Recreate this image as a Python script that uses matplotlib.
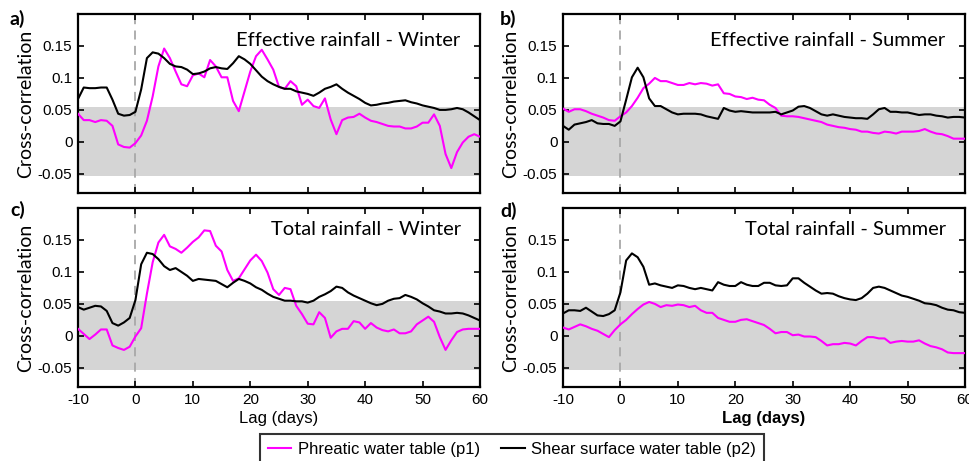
import matplotlib
matplotlib.use("Agg")
import matplotlib.pyplot as plt
import numpy as np

lags = list(range(-10, 61))

# Panel a: Effective rainfall - Winter
a_p1 = [0.044, 0.034, 0.034, 0.031, 0.034, 0.033, 0.025, -0.004, -0.008, -0.009,
        -0.002, 0.010, 0.033, 0.071, 0.118, 0.146, 0.131, 0.110, 0.090, 0.087,
        0.104, 0.107, 0.101, 0.128, 0.118, 0.101, 0.101, 0.064, 0.048, 0.079,
        0.110, 0.134, 0.144, 0.129, 0.113, 0.086, 0.083, 0.095, 0.087, 0.058,
        0.066, 0.056, 0.053, 0.068, 0.035, 0.012, 0.034, 0.038, 0.039, 0.044,
        0.038, 0.033, 0.031, 0.028, 0.025, 0.024, 0.024, 0.021, 0.021, 0.024,
        0.030, 0.030, 0.043, 0.025, -0.019, -0.041, -0.016, -0.001, 0.008, 0.012,
        0.008]
a_p2 = [0.067, 0.085, 0.084, 0.084, 0.085, 0.085, 0.066, 0.044, 0.041, 0.042,
        0.047, 0.082, 0.131, 0.140, 0.138, 0.131, 0.122, 0.118, 0.117, 0.113,
        0.106, 0.107, 0.110, 0.115, 0.117, 0.115, 0.114, 0.123, 0.134, 0.129,
        0.122, 0.112, 0.102, 0.095, 0.090, 0.086, 0.083, 0.083, 0.079, 0.077,
        0.075, 0.072, 0.077, 0.083, 0.086, 0.090, 0.083, 0.077, 0.072, 0.067,
        0.061, 0.057, 0.058, 0.060, 0.061, 0.063, 0.064, 0.065, 0.062, 0.060,
        0.057, 0.055, 0.053, 0.050, 0.050, 0.051, 0.053, 0.051, 0.046, 0.040,
        0.034]

# Panel b: Effective rainfall - Summer
b_p1 = [0.052, 0.047, 0.051, 0.051, 0.048, 0.044, 0.041, 0.038, 0.034, 0.033,
        0.040, 0.046, 0.056, 0.069, 0.084, 0.091, 0.100, 0.095, 0.095, 0.092,
        0.089, 0.089, 0.092, 0.090, 0.092, 0.091, 0.088, 0.090, 0.076, 0.075,
        0.071, 0.070, 0.067, 0.069, 0.066, 0.065, 0.058, 0.053, 0.041, 0.040,
        0.040, 0.039, 0.037, 0.035, 0.033, 0.031, 0.027, 0.025, 0.023, 0.022,
        0.020, 0.019, 0.016, 0.016, 0.014, 0.013, 0.016, 0.015, 0.013, 0.016,
        0.016, 0.016, 0.017, 0.020, 0.016, 0.013, 0.012, 0.009, 0.005, 0.005,
        0.005]
b_p2 = [0.025, 0.019, 0.027, 0.029, 0.031, 0.034, 0.029, 0.028, 0.028, 0.025,
        0.032, 0.066, 0.101, 0.116, 0.101, 0.068, 0.056, 0.056, 0.051, 0.046,
        0.043, 0.044, 0.044, 0.044, 0.043, 0.040, 0.038, 0.036, 0.053, 0.049,
        0.047, 0.048, 0.047, 0.046, 0.046, 0.046, 0.046, 0.047, 0.043, 0.046,
        0.049, 0.055, 0.056, 0.053, 0.048, 0.043, 0.041, 0.043, 0.041, 0.039,
        0.038, 0.037, 0.037, 0.036, 0.043, 0.051, 0.053, 0.047, 0.047, 0.046,
        0.046, 0.044, 0.042, 0.043, 0.043, 0.041, 0.040, 0.038, 0.039, 0.039,
        0.038]

# Panel c: Total rainfall - Winter
c_p1 = [0.011, 0.003, -0.005, 0.002, 0.010, 0.010, -0.015, -0.019, -0.022, -0.017,
        -0.001, 0.012, 0.066, 0.115, 0.146, 0.158, 0.140, 0.136, 0.130, 0.138,
        0.147, 0.154, 0.165, 0.164, 0.141, 0.132, 0.103, 0.086, 0.090, 0.104,
        0.118, 0.127, 0.117, 0.099, 0.073, 0.064, 0.075, 0.073, 0.047, 0.034,
        0.019, 0.018, 0.037, 0.028, -0.003, 0.007, 0.011, 0.011, 0.023, 0.021,
        0.011, 0.020, 0.013, 0.009, 0.007, 0.010, 0.004, 0.004, 0.007, 0.018,
        0.024, 0.030, 0.022, -0.002, -0.022, -0.007, 0.006, 0.010, 0.011, 0.011,
        0.011]
c_p2 = [0.045, 0.041, 0.044, 0.047, 0.046, 0.039, 0.020, 0.016, 0.021, 0.028,
        0.056, 0.112, 0.130, 0.128, 0.120, 0.109, 0.103, 0.106, 0.100, 0.094,
        0.086, 0.089, 0.088, 0.087, 0.086, 0.081, 0.076, 0.083, 0.089, 0.086,
        0.082, 0.076, 0.072, 0.066, 0.061, 0.058, 0.055, 0.055, 0.054, 0.054,
        0.052, 0.055, 0.061, 0.065, 0.070, 0.077, 0.075, 0.068, 0.063, 0.059,
        0.055, 0.051, 0.048, 0.050, 0.055, 0.058, 0.059, 0.064, 0.061, 0.057,
        0.051, 0.046, 0.040, 0.038, 0.035, 0.035, 0.036, 0.035, 0.032, 0.028,
        0.024]

# Panel d: Total rainfall - Summer
d_p1 = [0.013, 0.010, 0.014, 0.018, 0.015, 0.011, 0.008, 0.003, -0.002, 0.009,
        0.018, 0.025, 0.034, 0.042, 0.049, 0.053, 0.050, 0.045, 0.048, 0.047,
        0.049, 0.048, 0.045, 0.047, 0.040, 0.036, 0.036, 0.028, 0.025, 0.022,
        0.022, 0.025, 0.026, 0.023, 0.020, 0.017, 0.011, 0.004, 0.006, 0.006,
        0.001, 0.002, -0.001, -0.001, -0.002, -0.008, -0.015, -0.013, -0.013, -0.011,
        -0.012, -0.015, -0.008, -0.002, -0.002, -0.004, -0.004, -0.011, -0.009, -0.008,
        -0.009, -0.009, -0.007, -0.012, -0.016, -0.018, -0.021, -0.026, -0.027, -0.027,
        -0.027]
d_p2 = [0.035, 0.040, 0.040, 0.039, 0.044, 0.038, 0.032, 0.031, 0.034, 0.040,
        0.068, 0.118, 0.129, 0.123, 0.108, 0.080, 0.082, 0.079, 0.077, 0.075,
        0.079, 0.078, 0.075, 0.073, 0.075, 0.073, 0.071, 0.084, 0.080, 0.078,
        0.078, 0.084, 0.080, 0.078, 0.078, 0.083, 0.083, 0.079, 0.078, 0.079,
        0.090, 0.090, 0.083, 0.077, 0.071, 0.066, 0.067, 0.066, 0.062, 0.059,
        0.057, 0.056, 0.059, 0.066, 0.075, 0.077, 0.075, 0.071, 0.067, 0.063,
        0.061, 0.058, 0.055, 0.051, 0.050, 0.048, 0.044, 0.041, 0.040, 0.037,
        0.036]

panel_labels = ["a)", "b)", "c)", "d)"]
titles = ["Effective rainfall - Winter", "Effective rainfall - Summer",
          "Total rainfall - Winter", "Total rainfall - Summer"]
series = [(a_p1, a_p2), (b_p1, b_p2), (c_p1, c_p2), (d_p1, d_p2)]
legend_labels = ["Phreatic water table (p1)", "Shear surface water table (p2)"]
yticks = [-0.05, 0, 0.05, 0.1, 0.15]
ytick_labels = ["-0.05", "0", "0.05", "0.1", "0.15"]
xticks = [-10, 0, 10, 20, 30, 40, 50, 60]
xtick_labels = ["-10", "0", "10", "20", "30", "40", "50", "60"]
band = 0.054

W, H = 969, 461
fig = plt.figure(figsize=(W / 100, H / 100), dpi=100)

# axes rectangles in pixels: left, top, right, bottom
rects = [(78, 14, 480, 193), (563, 14, 965, 193),
         (78, 208, 480, 387), (563, 208, 965, 387)]
title_y = [0.821, 0.821, 0.849, 0.849]
label_pos = [(10, 10), (500, 10), (10, 201), (500, 202)]

MAG = "#FF00FF"
handles = None
for i, (l, t, r, b) in enumerate(rects):
    ax = fig.add_axes([l / W, (H - b) / H, (r - l) / W, (b - t) / H])
    ax.axhspan(-band, band, color="#D5D5D5", lw=0, zorder=0)
    ax.axvline(0, color="#A8A8A8", lw=1.3, ls=(0, (5, 3.5)), zorder=1)
    p1, p2 = series[i]
    h1, = ax.plot(lags, p1, color=MAG, lw=1.5, zorder=3)
    h2, = ax.plot(lags, p2, color="black", lw=1.5, zorder=3)
    handles = [h1, h2]
    ax.set_xlim(-10, 60)
    ax.set_ylim(-0.08, 0.2)
    ax.set_yticks(yticks)
    ax.set_yticklabels(ytick_labels, family="Liberation Sans", fontsize=11)
    ax.set_xticks(xticks)
    ax.tick_params(direction="in", top=True, right=True, length=4, width=1.2, pad=4)
    for s in ax.spines.values():
        s.set_linewidth(1.6)
    if i < 2:
        ax.set_xticklabels([])
    else:
        ax.set_xticklabels(xtick_labels, family="Liberation Sans", fontsize=11)
        ax.set_xlabel("Lag (days)", family="Liberation Sans", fontsize=12,
                      fontweight=("bold" if i == 3 else "normal"), labelpad=3)
    ax.set_ylabel("Cross-correlation", family="Lato", fontsize=14, labelpad=3)
    ax.text(0.952, title_y[i], titles[i], transform=ax.transAxes, ha="right",
            va="baseline", family="Lato", fontsize=14.5)
    fig.text(label_pos[i][0] / W, 1 - label_pos[i][1] / H, panel_labels[i],
             family="Lato", fontweight="bold", fontsize=14, ha="left", va="top")

leg = fig.legend(handles, legend_labels, loc="upper center",
                 bbox_to_anchor=(512 / W, 1 - 434 / H), ncol=2,
                 prop={"family": "Liberation Sans", "size": 12},
                 frameon=True, fancybox=False, handlelength=1.4,
                 handletextpad=0.4, columnspacing=1.3, borderpad=0.45,
                 borderaxespad=0)
leg.get_frame().set_edgecolor("black")
leg.get_frame().set_linewidth(1.5)

fig.savefig("out.png", dpi=100)
